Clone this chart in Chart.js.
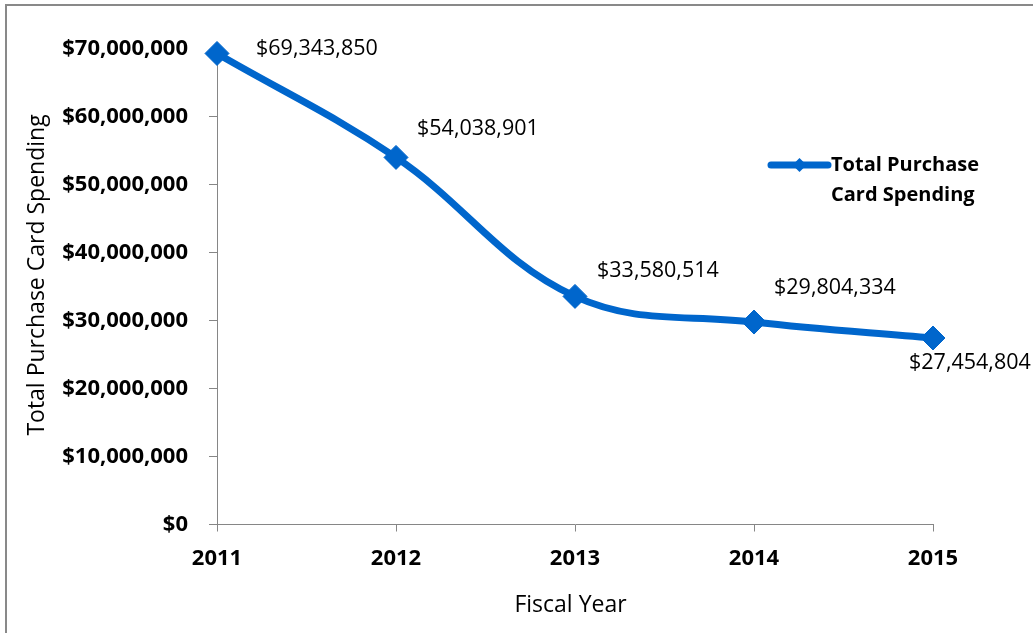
<!DOCTYPE html>
<html>
<head>
<meta charset="utf-8">
<script src="https://cdn.jsdelivr.net/npm/chart.js@4.4.1/dist/chart.umd.min.js"></script>
<style>
  html, body { margin: 0; padding: 0; background: #ffffff; }
  #wrap { width: 1033px; height: 633px; position: relative; }
</style>
</head>
<body>
<div id="wrap"><canvas id="c" width="1033" height="633"></canvas></div>
<script>
// ---- data ----
const categories = ['2011', '2012', '2013', '2014', '2015'];
const seriesName = 'Total Purchase Card Spending';
const spending = [69343850, 54038901, 33580514, 29804334, 27454804];
const yTickValues = [0, 10000000, 20000000, 30000000, 40000000, 50000000, 60000000, 70000000];
const xAxisTitle = 'Fiscal Year';
const yAxisTitle = 'Total Purchase Card Spending';
const legendLines = ['Total Purchase', 'Card Spending'];

// ---- styles ----
const FONT = "'Open Sans', 'Liberation Sans', sans-serif";
const BLUE = '#0066CC';
const AXIS_GRAY = '#868686';
const labelOffsets = [[39, -5], [21, -29], [22, -26], [20, -34], [-24, 25]];

function money(v) {
  return '$' + Math.round(v).toLocaleString('en-US');
}

const frame = {
  id: 'frame',
  beforeDraw(chart) {
    const ctx = chart.ctx;
    ctx.save();
    ctx.fillStyle = '#ffffff';
    ctx.fillRect(0, 0, chart.width, chart.height);
    ctx.strokeStyle = '#898989';
    ctx.lineWidth = 2;
    ctx.strokeRect(6, 5, 1200, 800);
    ctx.restore();
  }
};

const extras = {
  id: 'extras',
  afterDatasetsDraw(chart) {
    const ctx = chart.ctx;
    const meta = chart.getDatasetMeta(0);
    ctx.save();
    // data labels
    ctx.font = '21.5px ' + FONT;
    ctx.fillStyle = '#000000';
    ctx.textAlign = 'left';
    ctx.textBaseline = 'middle';
    meta.data.forEach((pt, i) => {
      const o = labelOffsets[i];
      ctx.fillText(money(spending[i]), pt.x + o[0], pt.y + o[1]);
    });
    // y axis title
    ctx.save();
    ctx.translate(37, 275);
    ctx.rotate(-Math.PI / 2);
    ctx.textAlign = 'center';
    ctx.textBaseline = 'middle';
    ctx.font = '23px ' + FONT;
    ctx.fillText(yAxisTitle, 0, 0);
    ctx.restore();
    // x axis title
    ctx.textAlign = 'center';
    ctx.textBaseline = 'middle';
    ctx.font = '23px ' + FONT;
    ctx.fillText(xAxisTitle, 570.5, 605);
    // legend
    const lx0 = 771, lx1 = 828, ly = 165;
    ctx.strokeStyle = BLUE;
    ctx.lineWidth = 7;
    ctx.lineCap = 'round';
    ctx.beginPath();
    ctx.moveTo(lx0, ly);
    ctx.lineTo(lx1, ly);
    ctx.stroke();
    ctx.fillStyle = BLUE;
    ctx.beginPath();
    const cx = (lx0 + lx1) / 2, r = 7;
    ctx.moveTo(cx, ly - r); ctx.lineTo(cx + r, ly); ctx.lineTo(cx, ly + r); ctx.lineTo(cx - r, ly);
    ctx.closePath();
    ctx.fill();
    ctx.fillStyle = '#000000';
    ctx.font = 'bold 20px ' + FONT;
    ctx.textAlign = 'left';
    ctx.textBaseline = 'middle';
    ctx.fillText(legendLines[0], 831, ly);
    ctx.fillText(legendLines[1], 831, ly + 30);
    ctx.restore();
  }
};

new Chart(document.getElementById('c'), {
  type: 'line',
  data: {
    labels: categories,
    datasets: [{
      label: seriesName,
      data: spending,
      borderColor: BLUE,
      backgroundColor: BLUE,
      borderWidth: 7,
      tension: 0.38,
      pointStyle: 'rectRot',
      pointRadius: 12,
      pointBorderWidth: 1,
      pointBackgroundColor: BLUE,
      pointBorderColor: BLUE,
      clip: false
    }]
  },
  options: {
    responsive: false,
    animation: false,
    devicePixelRatio: 1,
    layout: { autoPadding: false, padding: { top: 49, right: 100, bottom: 0, left: 0 } },
    plugins: { legend: { display: false }, tooltip: { enabled: false } },
    scales: {
      x: {
        type: 'category',
        offset: false,
        grid: { display: true, drawOnChartArea: false, drawTicks: true, tickLength: 7, color: AXIS_GRAY, lineWidth: 1 },
        border: { display: true, color: AXIS_GRAY, width: 1 },
        ticks: { color: '#000000', font: { family: FONT, size: 22, weight: 'bold' }, padding: 14, maxRotation: 0, autoSkip: false },
        title: { display: false, text: xAxisTitle },
        afterFit(scale) { scale.height = 108.5; }
      },
      y: {
        min: 0,
        max: 70000000,
        afterBuildTicks(scale) { scale.ticks = yTickValues.map(v => ({ value: v })); },
        grid: { display: true, drawOnChartArea: false, drawTicks: true, tickLength: 8, color: AXIS_GRAY, lineWidth: 1 },
        border: { display: true, color: AXIS_GRAY, width: 1 },
        ticks: { color: '#000000', font: { family: FONT, size: 22, weight: 'bold' }, padding: 21, callback: v => money(v) },
        title: { display: false, text: yAxisTitle },
        afterFit(scale) { scale.width = 217; }
      }
    }
  },
  plugins: [frame, extras]
});
</script>
</body>
</html>
